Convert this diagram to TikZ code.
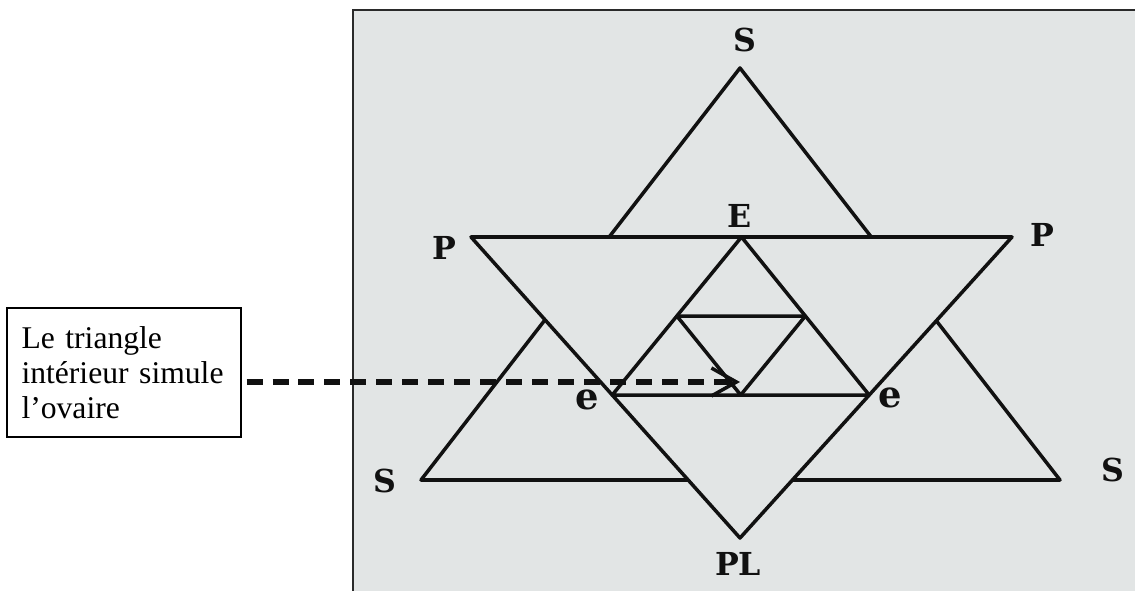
\documentclass[tikz,border=0pt]{standalone}
\usepackage{fontspec}
\setmainfont{Liberation Serif}
\newfontfamily\lblfont{DejaVu Serif}
\usetikzlibrary{arrows.meta,calc}
\definecolor{photobg}{HTML}{E2E5E5}
\definecolor{ink}{HTML}{111111}
\definecolor{framecol}{HTML}{2A2A2A}
\begin{document}
\begin{tikzpicture}[x=0.02cm,y=-0.02cm,
  geo/.style={draw=ink, line width=2pt, line join=round},
  lbl/.style={font=\lblfont\bfseries\fontsize{18}{18}\selectfont, text=ink, inner sep=0pt},
  lble/.style={font=\lblfont\bfseries\fontsize{21}{21}\selectfont, text=ink, inner sep=0pt},
  notebox/.style={draw=black, line width=0.6pt, text width=4.1cm, inner xsep=0.29cm,
    minimum height=2.58cm, align=left, font=\fontsize{18}{19.8}\selectfont},
  pointer/.style={draw=ink, line width=3.2pt, dash pattern=on 0.32cm off 0.2cm,
    -{Straight Barb[length=0.5cm, width=0.56cm, line width=2pt]}}]
\useasboundingbox (0,0) rectangle (1135,591);
% photo background and frame
\fill[photobg] (353,10) rectangle (1135,591);
\draw[framecol, line width=1.2pt] (353,591) -- (353,10) -- (1135,10);
% main vertices
\coordinate (St) at (740,68);
\coordinate (Sl) at (421,480);
\coordinate (Sr) at (1060,480);
\coordinate (Pl) at (471,237);
\coordinate (Pr) at (1012,237);
\coordinate (PLv) at (740,538);
% upright triangle (behind)
\draw[geo] (St) -- (Sl) -- (Sr) -- cycle;
% inverted triangle (in front)
\filldraw[geo, fill=photobg] (Pl) -- (Pr) -- (PLv) -- cycle;
% inner triangles
\coordinate (E) at ($(Pl)!0.5!(Pr)$);
\coordinate (eL) at ($(Pl)!0.525!(PLv)$);
\coordinate (eR) at ($(Pr)!0.525!(PLv)$);
\draw[geo] (E) -- (eL) -- (eR) -- cycle;
\coordinate (m1) at ($(E)!0.5!(eL)$);
\coordinate (m2) at ($(E)!0.5!(eR)$);
\coordinate (m3) at ($(eL)!0.5!(eR)$);
\draw[geo] (m1) -- (m2) -- (m3) -- cycle;
% labels
\node[lbl] (lSt) at (745,40) {S};
\node[lbl] (lE) at (740,216) {E};
\node[lbl] (lPl) at (444,248) {P};
\node[lbl] (lPr) at (1042,235) {P};
\node[lble] (leL) at (587,400) {e};
\node[lble] (leR) at (890,398) {e};
\node[lbl] (lSl) at (385,481) {S};
\node[lbl] (lSr) at (1113,470) {S};
\node[lbl] (lPL) at (738,564) {PL};
% text box and pointer
\node[notebox] (box) at (124,372.5) {Le triangle\\ intérieur simule\\ l’ovaire};
\coordinate (tip) at (740,382);
\draw[pointer] ($(box.east |- tip)+(5,0)$) -- (tip);
\end{tikzpicture}
\end{document}
